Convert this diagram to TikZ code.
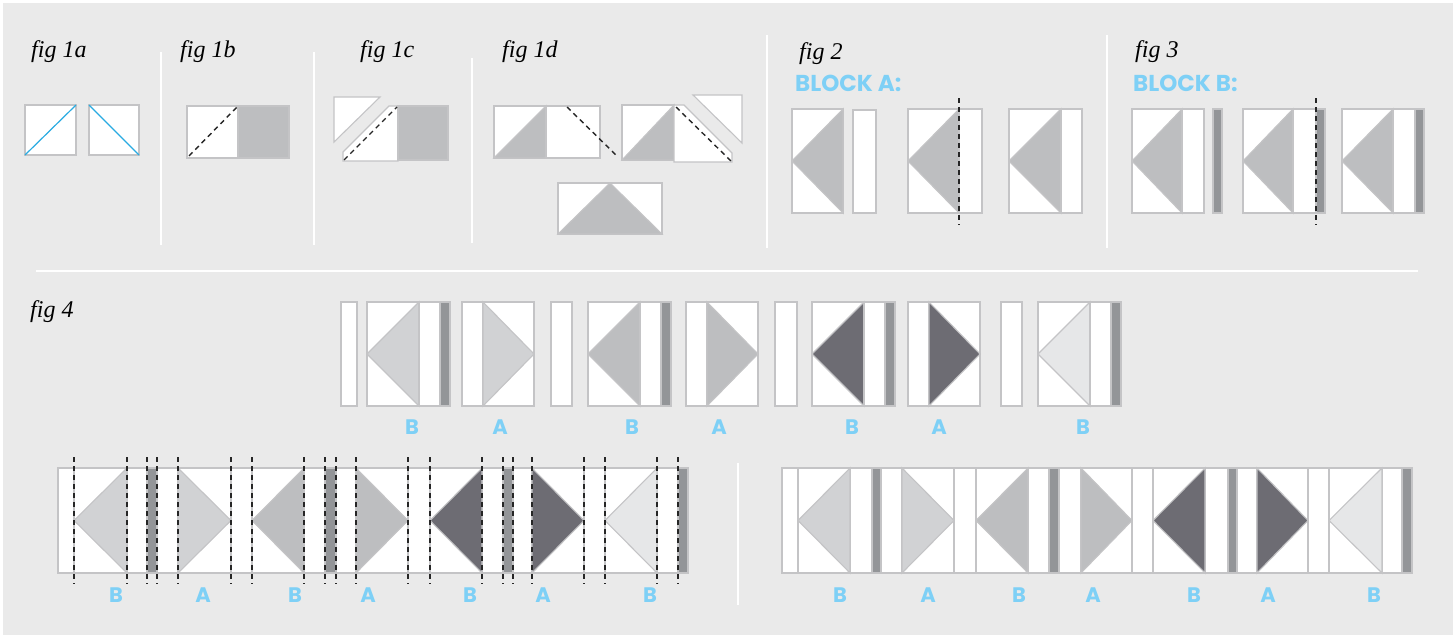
\documentclass[tikz,border=0pt]{standalone}
\usepackage{fontspec}
\setmainfont{Liberation Serif}
\newfontfamily\blkfont{Poppins}
\definecolor{bgc}{RGB}{234,234,234}
\definecolor{edgec}{RGB}{196,196,198}
\definecolor{midg}{RGB}{189,190,192}
\definecolor{lightg}{RGB}{209,210,212}
\definecolor{darkg}{RGB}{109,108,115}
\definecolor{vlightg}{RGB}{230,231,232}
\definecolor{stripg}{RGB}{147,149,152}
\definecolor{diagblue}{RGB}{41,171,226}
\definecolor{txtblue}{RGB}{126,208,246}
\newcommand\pcrect[5]{\filldraw[pc,fill=#5] (#1,#3) rectangle (#2,#4);}
\newcommand\Ltri[5]{\filldraw[pc,fill=#5] (#1,{(#3+#4)/2}) -- (#2,#3) -- (#2,#4) -- cycle;}
\newcommand\Rtri[5]{\filldraw[pc,fill=#5] (#1,#3) -- (#2,{(#3+#4)/2}) -- (#1,#4) -- cycle;}
\begin{document}
\begin{tikzpicture}[x=1pt,y=-1pt,
  pc/.style={draw=edgec,line width=1.1pt,line join=miter},
  sep/.style={draw=white,line width=2pt},
  cut/.style={draw=black!85,line width=1.4pt,dash pattern=on 5pt off 4pt},
  figlbl/.style={anchor=base west,inner sep=0pt,font=\fontsize{24}{28}\selectfont\itshape},
  blklbl/.style={anchor=base west,inner sep=0pt,text=txtblue,font=\blkfont\bfseries\fontsize{23}{26}\selectfont},
  ablbl/.style={anchor=center,inner sep=0pt,text=txtblue,font=\blkfont\bfseries\fontsize{21}{24}\selectfont}]
\useasboundingbox (0,0) rectangle (1456,635);
\fill[bgc] (3,3) rectangle (1453,635);
% separators
\draw[sep] (161,52) -- (161,245);
\draw[sep] (314,52) -- (314,245);
\draw[sep] (472,58) -- (472,243);
\draw[sep] (767,35) -- (767,248);
\draw[sep] (1107,35) -- (1107,248);
\draw[sep] (36,271) -- (1418,271);
\draw[sep] (738,463) -- (738,605);
% labels
\node[figlbl] (f1a) at (31,57) {fig 1a};
\node[figlbl] (f1b) at (180,57) {fig 1b};
\node[figlbl] (f1c) at (360,57) {fig 1c};
\node[figlbl] (f1d) at (502,57) {fig 1d};
\node[figlbl] (f2) at (799,59) {fig 2};
\node[figlbl] (f3) at (1135,57) {fig 3};
\node[figlbl] (f4) at (30,317) {fig 4};
\node[blklbl] (bA) at (795,91) {BLOCK A:};
\node[blklbl] (bB) at (1133,91) {BLOCK B:};
% fig 1a
\pcrect{25}{76}{105}{155}{white}
\draw[diagblue,line width=1.2pt] (25,155) -- (76,105);
\pcrect{89}{139}{105}{155}{white}
\draw[diagblue,line width=1.2pt] (89,105) -- (139,155);
% fig 1b
\pcrect{187}{238}{106}{158}{white}
\pcrect{238}{289}{106}{158}{midg}
\draw[cut] (189,156) -- (237,107);
% fig 1c
\filldraw[pc,fill=white] (334,97) -- (380,97) -- (334,142) -- cycle;
\filldraw[pc,fill=white] (343,161) -- (398,161) -- (398,106) -- (389,106) -- (343,152) -- cycle;
\pcrect{398}{448}{106}{160}{midg}
\draw[cut] (344,160) -- (397,107);
% fig 1d
\pcrect{494}{546}{106}{158}{white}
\filldraw[pc,fill=midg] (494,158) -- (546,106) -- (546,158) -- cycle;
\pcrect{546}{600}{106}{158}{white}
\draw[cut] (567,107) -- (618,157);
\pcrect{622}{674}{105}{160}{white}
\filldraw[pc,fill=midg] (622,160) -- (674,105) -- (674,160) -- cycle;
\filldraw[pc,fill=white] (674,105) -- (684,105) -- (732,153) -- (732,162) -- (674,162) -- cycle;
\draw[cut] (676,107) -- (731,161);
\filldraw[pc,fill=white] (693,95) -- (742,95) -- (742,143) -- cycle;
\pcrect{558}{662}{183}{234}{white}
\filldraw[pc,fill=midg] (558,234) -- (610,183) -- (662,234) -- cycle;
% fig 2
\pcrect{792}{843}{109}{213}{white}\Ltri{792}{843}{109}{213}{midg}
\pcrect{853}{876}{110}{213}{white}
\pcrect{908}{959}{109}{213}{white}\Ltri{908}{959}{109}{213}{midg}
\pcrect{959}{982}{109}{213}{white}
\draw[cut] (959,98) -- (959,225);
\pcrect{1009}{1061}{109}{213}{white}\Ltri{1009}{1061}{109}{213}{midg}
\pcrect{1061}{1082}{109}{213}{white}
% fig 3
\pcrect{1132}{1182}{109}{213}{white}\Ltri{1132}{1182}{109}{213}{midg}
\pcrect{1182}{1204}{109}{213}{white}
\pcrect{1213}{1222}{109}{213}{stripg}
\pcrect{1243}{1293}{109}{213}{white}\Ltri{1243}{1293}{109}{213}{midg}
\pcrect{1293}{1316}{109}{213}{white}
\pcrect{1316}{1325}{109}{213}{stripg}
\draw[cut] (1316,98) -- (1316,225);
\pcrect{1342}{1393}{109}{213}{white}\Ltri{1342}{1393}{109}{213}{midg}
\pcrect{1393}{1415}{109}{213}{white}
\pcrect{1415}{1424}{109}{213}{stripg}
% fig 4 top row
\foreach \a/\b in {341/357,551/572,775/797,1001/1022}{\pcrect{\a}{\b}{302}{406}{white}}
\foreach \x/\c in {367/lightg,588/midg,812/darkg,1038/vlightg}{
  \pcrect{\x}{\x+52}{302}{406}{white}
  \Ltri{\x}{\x+52}{302}{406}{\c}
  \pcrect{\x+52}{\x+73}{302}{406}{white}
  \pcrect{\x+73}{\x+83}{302}{406}{stripg}}
\foreach \x/\c in {462/lightg,686/midg,908/darkg}{
  \pcrect{\x}{\x+21}{302}{406}{white}
  \pcrect{\x+21}{\x+72}{302}{406}{white}
  \Rtri{\x+21}{\x+72}{302}{406}{\c}}
\foreach \x/\t [count=\i] in {412/B,500/A,632/B,719/A,852/B,939/A,1083/B}{
  \node[ablbl] (t\i) at (\x,427) {\t};}
% fig 4 bottom left
\pcrect{58}{688}{468}{573}{white}
\foreach \x in {74,127,147,157,178,231,252,304,325,336,356,408,430,482,503,513,532,584,605,657,678}{
  \draw[pc] (\x,468) -- (\x,573);}
\foreach \a/\b in {147/157,325/336,503/513,678/688}{\pcrect{\a}{\b}{468}{573}{stripg}}
\foreach \a/\b/\c in {74/127/lightg,252/304/midg,430/482/darkg,605/657/vlightg}{\Ltri{\a}{\b}{468}{573}{\c}}
\foreach \a/\b/\c in {178/231/lightg,356/408/midg,532/584/darkg}{\Rtri{\a}{\b}{468}{573}{\c}}
\foreach \x in {74,127,147,157,178,231,252,304,325,336,356,408,430,482,503,513,532,584,605,657,678}{
  \draw[cut] (\x,457) -- (\x,584);}
\foreach \x/\t [count=\i] in {116/B,203/A,295/B,368/A,470/B,543/A,650/B}{
  \node[ablbl] (l\i) at (\x,595) {\t};}
% fig 4 bottom right
\pcrect{782}{1412}{468}{573}{white}
\foreach \x in {798,850,872,881,902,954,976,1028,1049,1059,1081,1132,1153,1205,1228,1237,1257,1308,1329,1382,1402}{
  \draw[pc] (\x,468) -- (\x,573);}
\foreach \a/\b in {872/881,1049/1059,1228/1237,1402/1412}{\pcrect{\a}{\b}{468}{573}{stripg}}
\foreach \a/\b/\c in {798/850/lightg,976/1028/midg,1153/1205/darkg,1329/1382/vlightg}{\Ltri{\a}{\b}{468}{573}{\c}}
\foreach \a/\b/\c in {902/954/lightg,1081/1132/midg,1257/1308/darkg}{\Rtri{\a}{\b}{468}{573}{\c}}
\foreach \x/\t [count=\i] in {840/B,928/A,1019/B,1093/A,1194/B,1268/A,1374/B}{
  \node[ablbl] (r\i) at (\x,595) {\t};}
\end{tikzpicture}
\end{document}
